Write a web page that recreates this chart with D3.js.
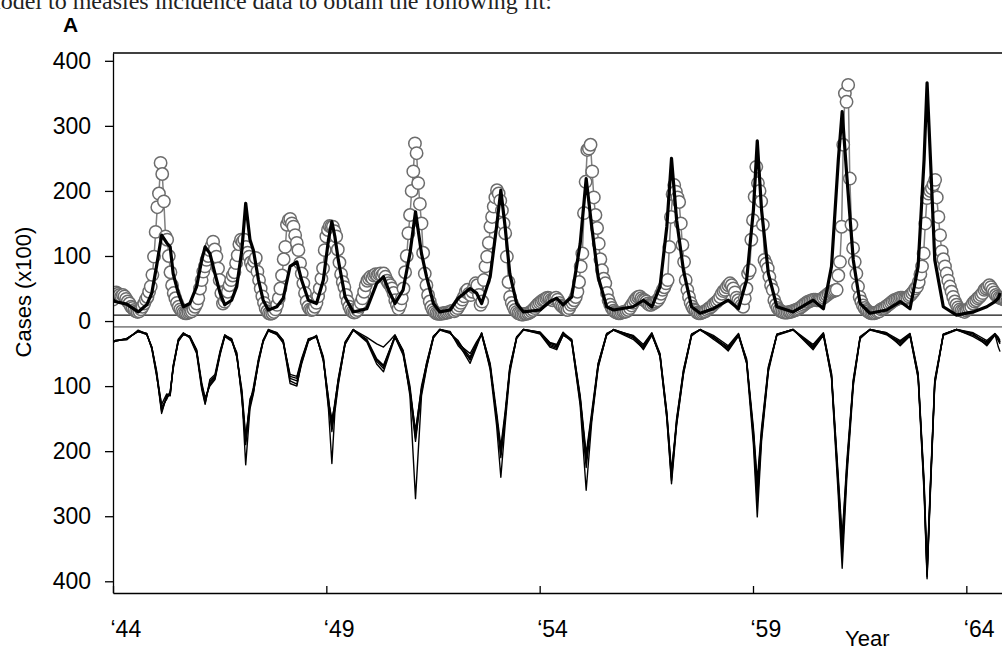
<!DOCTYPE html>
<html>
<head>
<meta charset="utf-8">
<script src="https://cdn.jsdelivr.net/npm/d3@7"></script>
<style>
  body { margin: 0; background: #fff; }
  svg { display: block; }
</style>
</head>
<body>
<div id="chart"></div>
<script>
// Observed biweekly cases (x100), 26 points per year, 1944-1964
const obsStartYear = 1944;
const obsPerYear = 26;
const observed = [
  33,40,44,42,40,38,40,38,34,30,27,22,20,17,15,14,15,18,22,27,33,37,45,53,71,99,            // 1944
  137,175,196,243,226,184,130,125,100,75,55,43,35,28,22,18,15,13,12,12,13,14,15,18,22,27,   // 1945
  35,50,63,76,84,94,100,109,115,122,110,99,81,63,43,27,30,37,45,55,63,70,75,89,101,118,     // 1946
  125,122,125,114,105,99,90,84,92,97,76,63,50,38,28,20,15,12,11,12,14,18,25,35,50,70,       // 1947
  95,114,148,155,157,150,145,132,120,109,89,73,58,43,30,22,18,17,18,22,28,38,50,65,81,109,  // 1948
  130,140,146,145,145,138,130,110,90,72,60,52,40,30,22,17,14,13,14,17,22,28,35,45,55,62,    // 1949
  65,68,66,70,72,70,72,73,70,73,68,62,58,55,50,43,32,25,19,25,35,50,75,100,135,163,         // 1950
  200,230,273,258,212,180,150,105,73,55,40,30,22,17,14,12,11,11,11,12,12,13,13,14,15,16,    // 1951
  15,17,20,24,28,33,38,45,48,42,40,45,52,58,55,40,25,30,63,84,99,120,145,160,176,190,       // 1952
  201,196,185,170,150,135,99,60,37,28,22,17,14,12,11,10,10,11,11,12,13,15,17,20,23,26,      // 1953
  28,30,32,33,35,36,35,33,32,34,36,33,28,24,22,20,18,17,20,25,28,32,37,45,60,84,            // 1954
  104,166,214,263,265,271,230,190,163,143,119,95,78,65,58,43,32,25,20,16,14,13,12,12,13,14, // 1955
  14,15,17,20,24,28,32,35,37,38,35,33,32,30,27,25,25,27,28,30,32,36,42,48,52,58,            // 1956
  63,114,160,195,209,199,190,183,150,117,91,63,48,37,28,22,18,16,13,12,12,13,14,15,17,19,   // 1957
  21,23,26,28,30,33,37,42,46,48,52,55,58,55,50,44,36,32,28,24,22,35,50,73,78,125,           // 1958
  155,191,237,212,200,184,148,94,88,81,68,55,48,32,25,20,17,15,14,13,13,13,14,14,15,16,     // 1959
  17,18,19,21,23,25,27,29,30,31,32,33,33,32,32,33,34,36,38,40,42,44,45,46,47,48,            // 1960
  70,91,145,271,350,337,363,219,148,112,91,73,53,37,30,24,20,17,15,13,12,12,12,13,14,15,    // 1961
  18,19,20,22,24,26,28,30,32,33,34,35,36,36,35,35,36,38,40,43,46,50,53,60,72,84,            // 1962
  104,150,189,196,200,204,210,217,190,160,132,107,95,84,73,62,53,45,37,30,25,21,18,16,15,14,// 1963
  16,18,20,22,27,30,32,35,37,40,43,48,50,52,55,52,48,44,40,38,36,35,34,33,32,31             // 1964
];

// Model fit (black line) - time points in years and values
const fitT = [1944.00,1944.05,1944.32,1944.59,1944.79,1944.91,1945.02,1945.14,1945.26,1945.34,
  1945.41,1945.53,1945.65,1945.80,1945.96,1946.08,1946.16,1946.27,1946.39,1946.51,
  1946.62,1946.78,1946.90,1947.02,1947.11,1947.21,1947.29,1947.41,1947.52,1947.64,
  1947.84,1947.99,1948.15,1948.31,1948.42,1948.58,1948.77,1948.93,1949.05,1949.13,
  1949.20,1949.28,1949.44,1949.63,1949.95,1950.18,1950.34,1950.49,1950.61,1950.80,
  1950.96,1951.09,1951.23,1951.35,1951.51,1951.66,1951.90,1952.09,1952.37,1952.52,
  1952.64,1952.84,1952.99,1953.09,1953.19,1953.30,1953.46,1953.62,1954.01,1954.24,
  1954.40,1954.55,1954.75,1954.95,1955.09,1955.22,1955.37,1955.57,1955.73,1956.19,
  1956.43,1956.63,1956.82,1956.98,1957.09,1957.21,1957.37,1957.56,1957.76,1958.07,
  1958.42,1958.66,1958.85,1959.01,1959.10,1959.20,1959.36,1959.56,1959.94,1960.41,
  1960.65,1960.84,1961.00,1961.09,1961.20,1961.35,1961.51,1961.74,1962.13,1962.45,
  1962.68,1962.87,1963.01,1963.08,1963.16,1963.26,1963.46,1963.77,1964.16,1964.48,
  1964.67,1964.75,1964.79];
const fitV = [33,30,26,14,25,43,84,132,120,114, 73,43,22,27,53,94,114,104,73,43,
  25,32,53,109,181,125,109,63,32,17, 22,35,84,91,63,32,27,63,125,153,
  130,94,37,14,19,58,68,43,27,48, 104,168,104,68,27,14,17,35,50,43,
  27,68,145,201,145,73,27,14,17,30, 35,25,37,119,219,145,68,22,17,22,
  32,22,53,145,250,155,78,22,12,19, 32,19,63,171,277,171,73,22,14,32,
  19,84,248,322,222,94,27,12,17,30, 19,84,248,366,248,94,22,9,14,22,
  30,35,43];

// Simulations (drawn downward), same time points as the fit
const simA = [33,31,27,16,20,40,78,139,116,114, 70,29,19,24,45,100,124,93,85,48,
  22,28,50,110,183,128,105,60,30,14, 18,30,85,88,60,28,23,55,120,157,
  125,90,33,13,30,62,73,45,22,45, 100,173,100,65,24,13,18,32,55,35,
  19,65,140,193,140,70,25,13,17,34, 38,18,28,115,204,140,65,20,14,22,
  36,18,50,140,235,150,75,20,13,22, 38,19,60,165,245,165,70,20,13,36,
  18,80,240,332,215,90,24,13,18,30, 19,80,245,378,245,90,20,13,18,30,
  19,25,30];
const simB = [32,30,28,15,19,42,82,136,118,110, 72,31,20,25,48,98,120,98,88,50,
  23,30,52,115,190,130,110,62,32,15, 20,32,88,92,64,30,24,60,125,150,
  130,92,35,14,28,58,68,43,24,50, 108,168,104,68,25,13,17,35,50,32,
  20,70,148,200,145,74,26,13,18,36, 40,20,30,120,210,145,68,21,13,24,
  40,20,52,145,240,155,78,22,13,24, 42,21,62,170,255,170,72,21,13,40,
  20,84,248,340,222,94,26,13,19,34, 21,84,250,385,250,94,21,13,20,34,
  20,27,33];
const simC = [33,31,27,16,21,40,80,142,114,112, 68,28,18,26,50,105,128,90,82,46,
  21,29,55,105,178,125,102,58,29,14, 19,34,82,85,58,27,25,58,130,165,
  128,88,32,13,25,35,40,30,21,48, 105,180,106,64,23,14,19,30,60,38,
  18,68,150,205,150,72,24,14,19,38, 42,22,29,118,215,148,66,19,14,26,
  38,19,55,148,245,152,76,21,14,26, 40,20,64,175,265,175,74,22,14,38,
  19,82,252,350,228,92,25,14,20,32, 20,82,255,390,252,92,22,14,22,32,
  21,30,35];
const simD = [31,30,29,14,20,41,76,132,120,108, 74,30,21,23,44,95,118,100,90,52,
  24,31,48,120,185,120,108,65,31,13, 18,30,92,97,66,31,22,62,118,170,
  135,95,36,14,32,66,78,48,25,52, 110,185,110,70,26,13,16,38,58,34,
  21,72,145,210,148,76,27,13,17,33, 36,17,32,125,225,150,70,22,13,23,
  44,22,51,142,230,158,80,23,13,25, 46,23,58,180,280,178,75,20,13,44,
  22,86,258,360,230,96,27,13,18,38, 23,86,258,393,256,96,20,13,19,38,
  22,28,32];
const simE = [32,30,27,16,19,43,84,128,112,115, 70,32,19,24,46,102,126,95,86,49,
  22,27,54,112,221,135,112,61,30,15, 21,33,96,100,62,29,24,57,135,219,
  140,98,34,13,30,60,70,44,23,46, 115,273,115,72,24,13,18,34,65,40,
  19,75,160,240,160,80,25,13,20,40, 44,21,31,130,260,155,72,20,14,28,
  42,21,54,150,250,160,82,20,13,28, 44,22,65,190,301,185,78,21,13,42,
  21,88,270,380,240,100,25,13,21,36, 22,88,265,396,260,98,21,13,24,36,
  20,40,47];

// Axis ticks
const yTicks = [400, 300, 200, 100, 0, -100, -200, -300, -400];
const xTickYears = [1944, 1949, 1954, 1959, 1964];
const xTickLabels = ['\u201844', '\u201849', '\u201854', '\u201859', '\u201864'];
const refLines = [9, -9];

// Layout
const width = 1002;
const height = 648;
const plotLeft = 113, plotRight = 1009, plotTop = 53, plotBottom = 593;
const fontSans = '"Liberation Sans", Arial, Helvetica, sans-serif';

const svg = d3.select('#chart')
  .append('svg')
  .attr('width', width)
  .attr('height', height);

const x = d3.scaleLinear().domain([1944, 1965]).range([plotLeft, plotRight]);
const y = d3.scaleLinear().domain([-418, 412]).range([plotBottom, plotTop]);

svg.append('defs').append('clipPath').attr('id', 'plotClip')
  .append('rect')
  .attr('x', plotLeft).attr('y', plotTop)
  .attr('width', plotRight - plotLeft).attr('height', plotBottom - plotTop);

// Caption text cut at the top of the page
svg.append('text')
  .attr('x', -18)
  .attr('y', 9)
  .attr('font-family', '"Liberation Serif", "DejaVu Serif", serif')
  .attr('font-size', 24)
  .attr('fill', '#222')
  .text('model to measles incidence data to obtain the following fit:');

// Panel letter
svg.append('text')
  .attr('x', 63)
  .attr('y', 32)
  .attr('font-family', fontSans)
  .attr('font-weight', 'bold')
  .attr('font-size', 21)
  .text('A');

const g = svg.append('g').attr('clip-path', 'url(#plotClip)');

// Reference lines around zero
g.selectAll('line.ref')
  .data(refLines)
  .enter()
  .append('line')
  .attr('class', 'ref')
  .attr('x1', plotLeft).attr('x2', plotRight)
  .attr('y1', d => y(d)).attr('y2', d => y(d))
  .attr('stroke', (d, i) => i === 0 ? '#111' : '#8a8a8a')
  .attr('stroke-width', (d, i) => i === 0 ? 1.2 : 1.8);

// Simulations, mirrored below zero
const sims = [simA, simB, simC, simD, simE];
const simLine = d3.line()
  .x((d, i) => x(fitT[i]))
  .y(d => y(-d));
g.selectAll('path.sim')
  .data(sims)
  .enter()
  .append('path')
  .attr('class', 'sim')
  .attr('d', simLine)
  .attr('fill', 'none')
  .attr('stroke', '#000')
  .attr('stroke-width', 1.4)
  .attr('stroke-linejoin', 'round');

// Observed data: grey line + open circles
const obsPoints = observed.map((v, i) => ({ t: obsStartYear + i / obsPerYear, v: v }));
g.append('path')
  .datum(obsPoints)
  .attr('d', d3.line().x(d => x(d.t)).y(d => y(d.v)))
  .attr('fill', 'none')
  .attr('stroke', '#808080')
  .attr('stroke-width', 1.5);

g.selectAll('circle.obs')
  .data(obsPoints)
  .enter()
  .append('circle')
  .attr('class', 'obs')
  .attr('cx', d => x(d.t))
  .attr('cy', d => y(d.v))
  .attr('r', 6.2)
  .attr('fill', '#fff')
  .attr('stroke', '#6c6c6c')
  .attr('stroke-width', 1.5);

// Model fit
g.append('path')
  .datum(fitV)
  .attr('d', d3.line().x((d, i) => x(fitT[i])).y(d => y(d)))
  .attr('fill', 'none')
  .attr('stroke', '#000')
  .attr('stroke-width', 3.2)
  .attr('stroke-linejoin', 'round');

// Frame top
svg.append('line')
  .attr('x1', plotLeft).attr('x2', plotRight)
  .attr('y1', plotTop).attr('y2', plotTop)
  .attr('stroke', '#000').attr('stroke-width', 1.3);

// Y axis
const yAxis = svg.append('g')
  .attr('transform', `translate(${plotLeft},0)`)
  .call(d3.axisLeft(y)
    .tickValues(yTicks)
    .tickFormat(d => Math.abs(d))
    .tickSize(8)
    .tickSizeOuter(0)
    .tickPadding(14));
yAxis.selectAll('text')
  .attr('font-family', fontSans)
  .attr('font-size', 23)
  .attr('fill', '#000');
yAxis.selectAll('path, line').attr('stroke', '#000').attr('stroke-width', 1.3);

// X axis
const xAxis = svg.append('g')
  .attr('transform', `translate(0,${plotBottom})`)
  .call(d3.axisBottom(x)
    .tickValues(xTickYears)
    .tickFormat((d, i) => xTickLabels[i])
    .tickSize(-7)
    .tickSizeOuter(0));
xAxis.selectAll('text')
  .attr('font-family', fontSans)
  .attr('font-size', 23)
  .attr('fill', '#000')
  .attr('text-anchor', 'start')
  .attr('x', -3)
  .attr('y', 44)
  .attr('dy', 0);
xAxis.selectAll('path, line').attr('stroke', '#000').attr('stroke-width', 1.3);

// Axis titles
svg.append('text')
  .attr('transform', 'translate(31,292) rotate(-90)')
  .attr('text-anchor', 'middle')
  .attr('font-family', fontSans)
  .attr('font-size', 22)
  .text('Cases (x100)');

svg.append('text')
  .attr('x', 845)
  .attr('y', 646)
  .attr('font-family', fontSans)
  .attr('font-size', 22)
  .text('Year');
</script>
</body>
</html>
